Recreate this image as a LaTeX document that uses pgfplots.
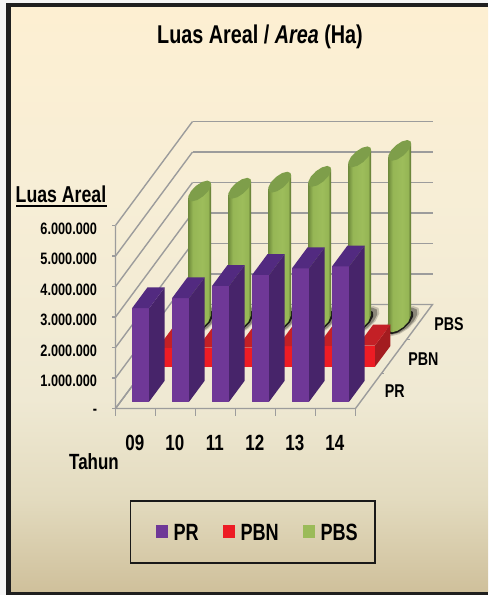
\documentclass[border=0pt]{standalone}
\usepackage{pgfplots}
\usepackage{pgfplotstable}
\usepackage{fontspec}
\pgfplotsset{compat=1.18}
\setmainfont{Liberation Sans}[FakeStretch=0.77]
\definecolor{gridc}{HTML}{9C9C9C}
\definecolor{prF}{HTML}{6F3897}\definecolor{prS}{HTML}{47246A}\definecolor{prT}{HTML}{522A80}
\definecolor{pbnF}{HTML}{ED1C24}\definecolor{pbnS}{HTML}{A31C20}\definecolor{pbnT}{HTML}{C32026}
\definecolor{pbsB}{HTML}{9BBB59}\definecolor{pbsT}{HTML}{7E9E4A}
\definecolor{bg0}{HTML}{CFC09B}\definecolor{bg1}{HTML}{E3DBBF}\definecolor{bg2}{HTML}{EFE9D3}\definecolor{bg3}{HTML}{F7EED6}\definecolor{bg4}{HTML}{FDEFD2}
\pgfdeclareverticalshading{pagebg}{100bp}{
 color(0bp)=(bg0);color(25bp)=(bg0);color(33bp)=(bg1);color(41.5bp)=(bg2);color(59bp)=(bg3);color(75bp)=(bg4);color(100bp)=(bg4)}
\definecolor{cyl0}{HTML}{6E8A3C}\definecolor{cyl1}{HTML}{96B655}\definecolor{cyl2}{HTML}{9DBD5B}\definecolor{cyl3}{HTML}{556B2C}
\pgfdeclarehorizontalshading{cylsh}{100bp}{
 color(0bp)=(cyl0);color(25bp)=(cyl0);color(35bp)=(cyl1);color(55bp)=(cyl2);color(68bp)=(cyl1);color(75bp)=(cyl3);color(100bp)=(cyl3)}
% unit outlines (dx, dy in bar half-size units, h = 0 foot, 1 head)
\pgfplotstableread{
dx dy h
-1 0 0
1 0 0
1 0 1
-1 0 1
}\faceFront
\pgfplotstableread{
dx dy h
1 0 0
1 1 0
1 1 1
1 0 1
}\faceSide
\pgfplotstableread{
dx dy h
-1 0 1
1 0 1
1 1 1
-1 1 1
}\faceTop
\pgfplotstableread{
dx dy h
0.160 0.200 1
0.160 0.200 0
0.215 0.000 0
0.186 -0.150 0
0.108 -0.260 0
0.000 -0.300 0
-0.108 -0.260 0
-0.160 -0.200 0
-0.160 -0.200 1
}\cylBody
\pgfplotstableread{
dx dy h
0.215 0.000 1
0.186 0.150 1
0.108 0.260 1
0.000 0.300 1
-0.108 0.260 1
-0.186 0.150 1
-0.215 0.000 1
-0.186 -0.150 1
-0.108 -0.260 1
0.000 -0.300 1
0.108 -0.260 1
0.186 -0.150 1
}\cylTop
\newcommand{\oneface}[5]{% table, colour, x, y0, value
 \addplot3[draw=none,fill=#2,forget plot] table[x expr=#3+0.215*\thisrow{dx},y expr=#4+0.6*\thisrow{dy},z expr=\thisrow{h}*#5*0.000001]{#1};}
\newcommand{\barPR}[2]{\oneface{\faceSide}{prS}{#1}{0.2}{#2}\oneface{\faceFront}{prF}{#1}{0.2}{#2}\oneface{\faceTop}{prT}{#1}{0.2}{#2}}
\newcommand{\barPBN}[2]{\oneface{\faceSide}{pbnS}{#1}{1.2}{#2}\oneface{\faceFront}{pbnF}{#1}{1.2}{#2}\oneface{\faceTop}{pbnT}{#1}{1.2}{#2}}
\newcommand{\shadowPBS}[1]{%
 \addplot3[draw=none,fill=black,fill opacity=0.18,forget plot] table[x expr=#1+0.05+1.55*\thisrow{dx},y expr=2.5+0.02+1.45*\thisrow{dy},z expr=0]{\cylTop};
 \addplot3[draw=none,fill=black,fill opacity=0.3,forget plot] table[x expr=#1+0.05+1.35*\thisrow{dx},y expr=2.5+0.02+1.3*\thisrow{dy},z expr=0]{\cylTop};
 \addplot3[draw=none,fill=black,fill opacity=0.8,forget plot] table[x expr=#1+0.02+1.15*\thisrow{dx},y expr=2.5-0.01+1.15*\thisrow{dy},z expr=0]{\cylTop};}
\newcommand{\cylPBS}[2]{%
 \addplot3[draw=none,shade,shading=cylsh,forget plot] table[x expr=#1+\thisrow{dx},y expr=2.5+\thisrow{dy},z expr=\thisrow{h}*#2*0.000001]{\cylBody};
 \addplot3[draw=none,fill=pbsT,forget plot] table[x expr=#1+\thisrow{dx},y expr=2.5+\thisrow{dy},z expr=\thisrow{h}*#2*0.000001]{\cylTop};}
\newcommand{\tk}[2]{\addplot3[gridc,line width=1.2pt,forget plot] coordinates {(#1)(#2)};}
\begin{document}
\begin{tikzpicture}[x=1pt,y=1pt]
\useasboundingbox (0,0) rectangle (488,595);
\fill[black!4] (0,0) rectangle (488,595);
\fill[color=black!88] (6,0) rectangle (488,592);
\shade[shading=pagebg] (11,3) rectangle (488,587);
\begin{axis}[
 at={(115.5pt,186.5pt)},anchor=origin,
 x={(40pt,0pt)},y={(25.67pt,34.67pt)},z={(0pt,30.5pt)},
 xmin=0,xmax=6,ymin=0,ymax=3,zmin=0,zmax=6,
 clip=false,
 axis line style={draw=none},
 tick align=outside,
 major tick length=5pt,
 tick style={draw=none},
 grid style={gridc,line width=1.4pt},
 zmajorgrids=true,xmajorgrids=false,ymajorgrids=false,
 xtick pos=left,ytick pos=left,ztick pos=left,
 xtick={0.5,1.5,2.5,3.5,4.5,5.5},xticklabels={09,10,11,12,13,14},
 ytick={0.5,1.5,2.5},yticklabels={PR,PBN,PBS},
 ztick={0,1,2,3,4,5,6},
 zticklabels={-,1.000.000,2.000.000,3.000.000,4.000.000,5.000.000,6.000.000},
 x tick label style={font=\fontsize{22}{24}\selectfont\bfseries,xshift=6pt,yshift=-19pt},
 y tick label style={font=\fontsize{18.5}{20}\selectfont\bfseries,xshift=9.5pt,yshift=12pt},
 z tick label style={font=\fontsize{16.5}{18}\selectfont\bfseries,anchor=east,xshift=-12pt,yshift=1pt},
]
\addplot3[gridc,line width=1.4pt,forget plot] coordinates {(0,0,6)(0,0,0)(6,0,0)(6,3,0)(0,3,0)(0,0,0)};
% tick marks
\tk{0,0,0}{0,0,-0.23}\tk{1,0,0}{1,0,-0.23}\tk{2,0,0}{2,0,-0.23}\tk{3,0,0}{3,0,-0.23}\tk{4,0,0}{4,0,-0.23}\tk{5,0,0}{5,0,-0.23}\tk{6,0,0}{6,0,-0.23}
\tk{0,0,0}{-0.1,0,0}\tk{0,0,1}{-0.1,0,1}\tk{0,0,2}{-0.1,0,2}\tk{0,0,3}{-0.1,0,3}\tk{0,0,4}{-0.1,0,4}\tk{0,0,5}{-0.1,0,5}\tk{0,0,6}{-0.1,0,6}
\tk{6,1,0}{6.07,1,0}\tk{6,2,0}{6.07,2,0}
\shadowPBS{0.5}\shadowPBS{1.5}\shadowPBS{2.5}\shadowPBS{3.5}\shadowPBS{4.5}\shadowPBS{5.5}
\cylPBS{0.5}{4290000}\cylPBS{1.5}{4380000}\cylPBS{2.5}{4580000}\cylPBS{3.5}{4770000}\cylPBS{4.5}{5410000}\cylPBS{5.5}{5620000}
\barPBN{0.5}{620000}\barPBN{1.5}{630000}\barPBN{2.5}{630000}\barPBN{3.5}{680000}\barPBN{4.5}{690000}\barPBN{5.5}{700000}
\barPR{0.5}{3060000}\barPR{1.5}{3390000}\barPR{2.5}{3790000}\barPR{3.5}{4150000}\barPR{4.5}{4370000}\barPR{5.5}{4430000}
\end{axis}
\node[font=\fontsize{25.7}{28}\selectfont\bfseries] at (260,558) {Luas Areal / \textit{Area} (Ha)};
\node[font=\fontsize{23}{25}\selectfont\bfseries] at (61,401) {Luas Areal};
\fill (16,388) rectangle (107,390);
\node[font=\fontsize{22}{24}\selectfont\bfseries] at (94,133) {Tahun};
\draw[line width=1.6pt,black!90] (130.5,32) rectangle (375,94);
\fill[prF] (156,56.5) rectangle (168,69.5);
\fill[pbnF] (223,56.5) rectangle (235,69.5);
\fill[pbsB] (303,56.5) rectangle (315,69.5);
\node[anchor=west,font=\fontsize{23.5}{25}\selectfont\bfseries] at (170,63) {PR};
\node[anchor=west,font=\fontsize{23.5}{25}\selectfont\bfseries] at (237,63) {PBN};
\node[anchor=west,font=\fontsize{23.5}{25}\selectfont\bfseries] at (317,63) {PBS};
\end{tikzpicture}
\end{document}
